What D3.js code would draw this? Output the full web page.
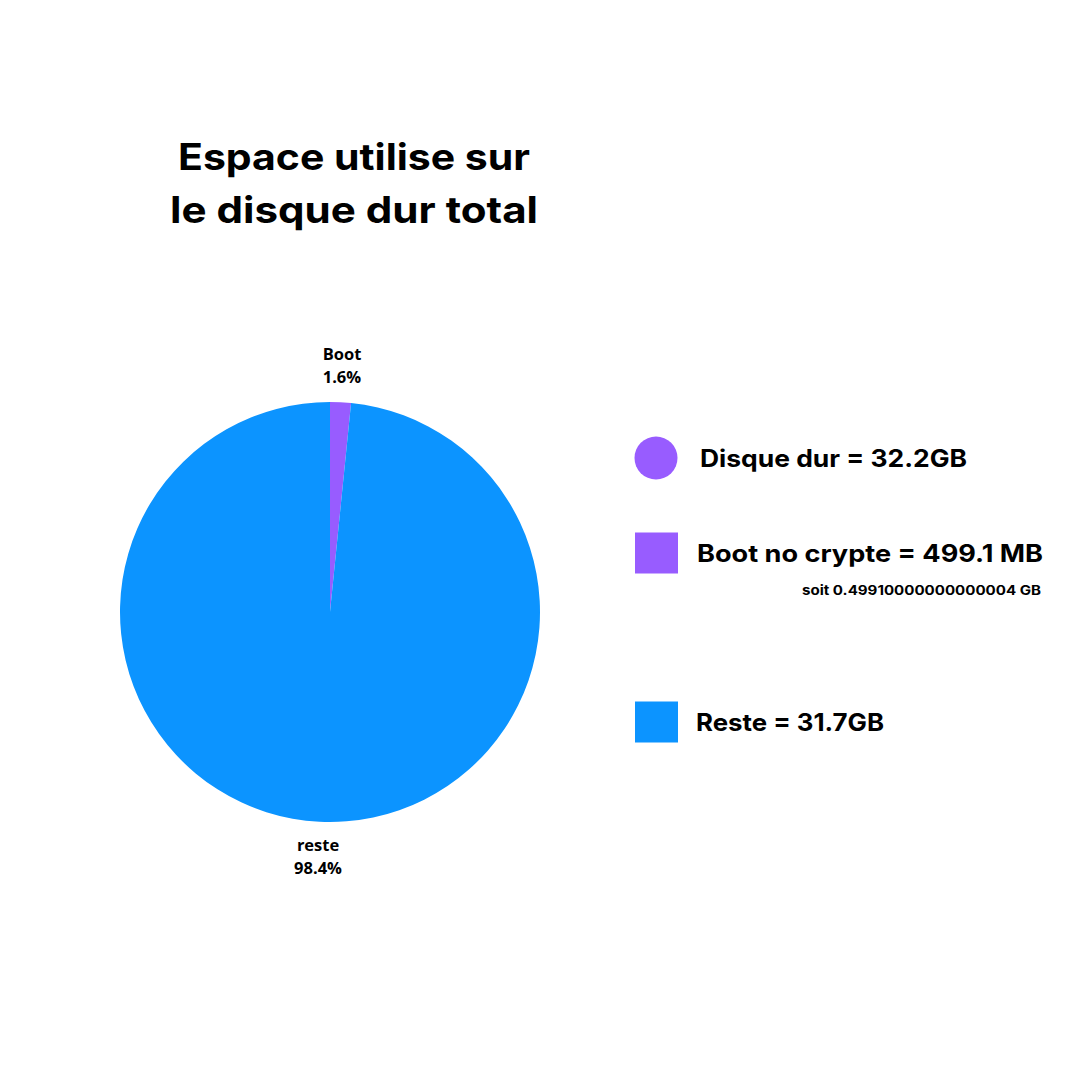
<!DOCTYPE html>
<html><head><meta charset="utf-8">
<script src="https://cdn.jsdelivr.net/npm/d3@7"></script>
<style>html,body{margin:0;padding:0;background:#fff;}svg{display:block;}</style>
</head><body>
<svg id="chart" width="1080" height="1080"></svg>
<script>
const titleLines = ["Espace utilise sur", "le disque dur total"];
const sliceLabels = ["Boot", "reste"];
const sliceValues = [1.6, 98.4];
const sliceColors = ["#985CFF", "#0C94FF"];
const legendLabels = ["Disque dur = 32.2GB", "Boot no crypte = 499.1 MB", "Reste = 31.7GB"];
const legendShapes = ["circle", "square", "square"];
const legendColors = ["#985CFF", "#985CFF", "#0C94FF"];
const legendNote = "soit 0.49910000000000004 GB";

const svg = d3.select("#chart");
const font = "Inter, 'Open Sans', sans-serif";

// title
const titleW = [352, 368];
svg.selectAll("text.title").data(titleLines).join("text")
  .attr("class","title")
  .attr("x", 354).attr("y", (d,i)=>170 + i*53)
  .attr("text-anchor","middle")
  .attr("font-family", font).attr("font-weight", 700).attr("font-size", 37)
  .attr("textLength",(d,i)=>titleW[i]).attr("lengthAdjust","spacingAndGlyphs")
  .attr("fill","#000").text(d=>d);

// pie
const cx = 330, cy = 612, R = 210;
const pie = d3.pie().sort(null).value(d=>d.v);
const arcs = pie(sliceValues.map((v,i)=>({v, label: sliceLabels[i], color: sliceColors[i]})));
const arc = d3.arc().innerRadius(0).outerRadius(R);
const g = svg.append("g").attr("transform",`translate(${cx},${cy})`);
g.selectAll("path").data(arcs).join("path")
  .attr("d", arc).attr("fill", d=>d.data.color);

// slice labels
const labelArc = d3.arc().innerRadius(R+28).outerRadius(R+28);
arcs.forEach((a,i)=>{
  const c = labelArc.centroid(a);
  const t = g.append("text")
    .attr("text-anchor","middle")
    .attr("font-family","'Open Sans', sans-serif").attr("font-weight",700).attr("font-size",16.5)
    .attr("fill","#000");
  const baseY = i===0 ? c[1]-14 : c[1]+1;
  t.append("tspan").attr("x", c[0]).attr("y", baseY).text(a.data.label);
  t.append("tspan").attr("x", c[0]).attr("y", baseY+23).text(a.data.v.toFixed(1)+"%");
});

// legend
const legY = [458, 553, 722];
const legTextX = [700, 697, 696];
const legTextW = [267, 346, 188];
const leg = svg.append("g");
legendLabels.forEach((lab,i)=>{
  if (legendShapes[i]==="circle") {
    leg.append("circle").attr("cx",656).attr("cy",legY[i]).attr("r",21.5).attr("fill",legendColors[i]);
  } else {
    leg.append("rect").attr("x",635).attr("y",legY[i]-20.5).attr("width",43).attr("height",41).attr("fill",legendColors[i]);
  }
  leg.append("text").attr("x",legTextX[i]).attr("y",legY[i]+9)
    .attr("font-family",font).attr("font-weight",700).attr("font-size",24)
    .attr("textLength",legTextW[i]).attr("lengthAdjust","spacingAndGlyphs")
    .attr("fill","#000").text(lab);
});
leg.append("text").attr("x",1041).attr("y",595).attr("text-anchor","end")
  .attr("font-family",font).attr("font-weight",700).attr("font-size",13)
  .attr("textLength",239).attr("lengthAdjust","spacingAndGlyphs")
  .attr("fill","#000").text(legendNote);
</script>
</body></html>
